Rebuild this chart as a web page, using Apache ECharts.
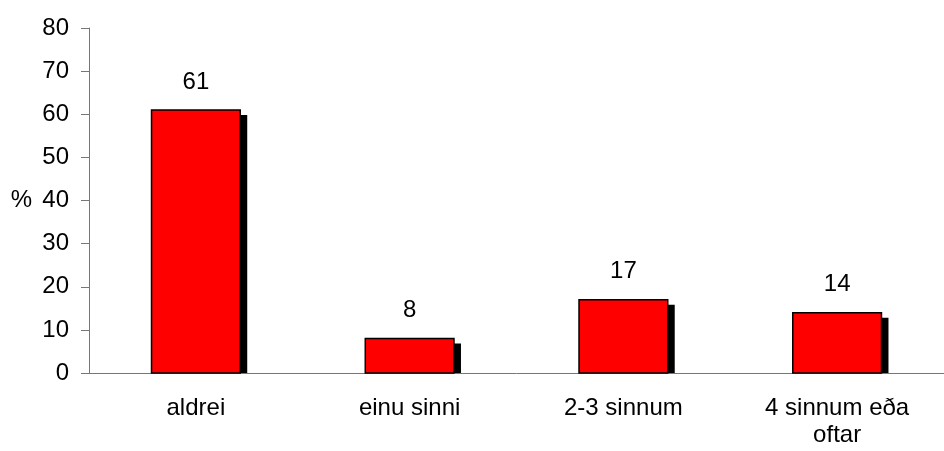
<!DOCTYPE html>
<html>
<head>
<meta charset="utf-8">
<script src="https://cdn.jsdelivr.net/npm/echarts@6/dist/echarts.min.js"></script>
<style>
  html, body { margin: 0; padding: 0; background: #fff; }
  #main { width: 944px; height: 451px; }
</style>
</head>
<body>
<div id="main"></div>
<script>
const categories = ['aldrei', 'einu sinni', '2-3 sinnum', '4 sinnum eða\noftar'];
const values = [61, 8, 17, 14];
const yTicks = [0, 10, 20, 30, 40, 50, 60, 70, 80];

const myChart = echarts.init(document.getElementById('main'));
const FONT = '"Liberation Sans", Arial, sans-serif';

// bar with a black drop shadow to the right, clipped at the axis
function renderBar(params, api) {
    const idx = api.value(0);
    const val = api.value(1);
    const top = api.coord([idx, val]);
    const base = api.coord([idx, 0]);
    const w = api.size([1, 0])[0] * 0.415;
    const x = top[0] - w / 2;
    return {
        type: 'group',
        children: [
            {
                type: 'rect',
                shape: { x: x + 7, y: top[1] + 5, width: w, height: base[1] - top[1] - 5 },
                style: { fill: '#000' }
            },
            {
                type: 'rect',
                shape: { x: x, y: top[1], width: w, height: base[1] - top[1] },
                style: { fill: '#ff0000', stroke: '#000', lineWidth: 1.5 }
            },
            {
                type: 'text',
                style: {
                    text: String(val),
                    x: top[0], y: top[1] - 28,
                    align: 'center', verticalAlign: 'middle',
                    fill: '#000', font: '24px ' + FONT
                }
            }
        ]
    };
}

const option = {
    animation: false,
    textStyle: { fontFamily: FONT },
    grid: { left: 89, top: 28, width: 860, bottom: 78 },
    xAxis: {
        type: 'category',
        data: categories,
        boundaryGap: true,
        axisLine: { lineStyle: { color: '#777', width: 1 } },
        axisTick: { length: 8, inside: false, lineStyle: { color: '#777' } },
        axisLabel: { color: '#000', fontSize: 24, margin: 22, lineHeight: 27, interval: 0 }
    },
    yAxis: {
        type: 'value',
        min: yTicks[0],
        max: yTicks[yTicks.length - 1],
        interval: 10,
        name: '%',
        nameLocation: 'middle',
        nameRotate: 0,
        nameGap: 57,
        nameTextStyle: { color: '#000', fontSize: 24 },
        axisLine: { show: true, lineStyle: { color: '#777', width: 1 } },
        axisTick: { show: true, length: 8, lineStyle: { color: '#777' } },
        axisLabel: { color: '#000', fontSize: 24, margin: 20 },
        splitLine: { show: false }
    },
    series: [
        {
            type: 'custom',
            renderItem: renderBar,
            data: values.map((v, i) => [i, v]),
            encode: { x: 0, y: 1 },
            clip: false
        }
    ]
};

option && myChart.setOption(option);
</script>
</body>
</html>
